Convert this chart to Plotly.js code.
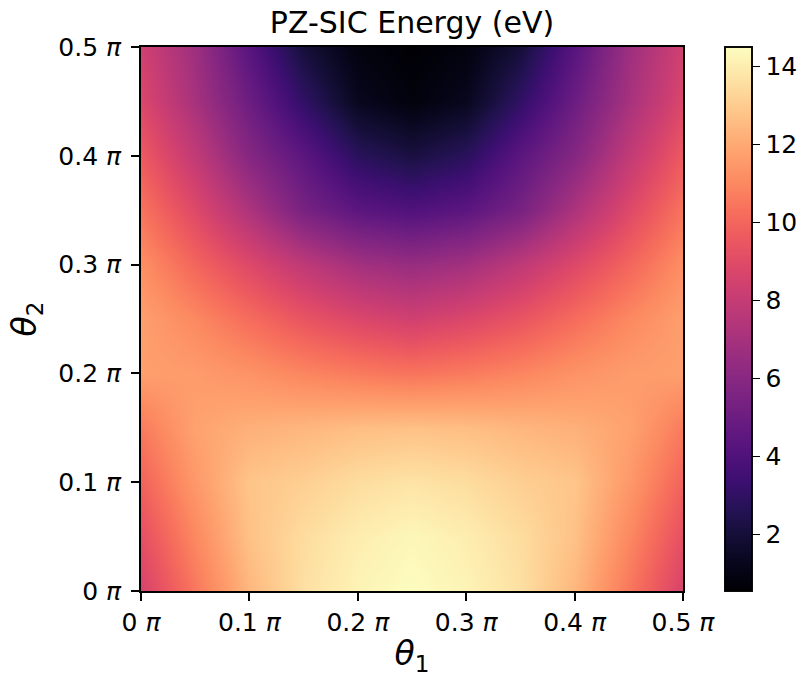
<!DOCTYPE html>
<html>
<head>
<meta charset="utf-8">
<script src="https://cdn.plot.ly/plotly-3.0.1.min.js"></script>
<style>html,body{margin:0;padding:0;background:#fff;}#chart{width:803px;height:677px;}</style>
</head>
<body>
<div id="chart"></div>
<script>
// theta values in units of pi
const theta1 = [0, 0.05, 0.10, 0.15, 0.20, 0.25, 0.30, 0.35, 0.40, 0.45, 0.50];
const theta2 = [0, 0.05, 0.10, 0.15, 0.20, 0.25, 0.30, 0.35, 0.40, 0.45, 0.50];
const tickVals = [0, 0.1, 0.2, 0.3, 0.4, 0.5];
const tickText = ["0 <i>π</i>", "0.1 <i>π</i>", "0.2 <i>π</i>", "0.3 <i>π</i>", "0.4 <i>π</i>", "0.5 <i>π</i>"];
const cbTicks = [2, 4, 6, 8, 10, 12, 14];

// PZ-SIC energy (eV), one row per theta2 value, columns follow theta1
const e_t2_000 = [8.6, 10.5, 12.4, 13.6, 14.2, 14.5, 14.2, 13.6, 12.4, 10.5, 8.6];
const e_t2_005 = [9.2, 11.0, 12.7, 13.5, 14.0, 14.3, 14.0, 13.5, 12.7, 11.0, 9.2];
const e_t2_010 = [9.9, 11.5, 12.8, 13.1, 13.5, 13.7, 13.5, 13.1, 12.8, 11.5, 9.9];
const e_t2_015 = [10.6, 11.8, 12.2, 12.4, 12.6, 12.7, 12.6, 12.4, 12.2, 11.8, 10.6];
const e_t2_020 = [11.7, 11.6, 11.3, 10.9, 10.6, 10.4, 10.6, 10.9, 11.3, 11.6, 11.7];
const e_t2_025 = [11.7, 11.0, 10.2, 9.4, 8.8, 8.4, 8.8, 9.4, 10.2, 11.0, 11.7];
const e_t2_030 = [11.2, 10.0, 8.9, 7.8, 6.9, 6.5, 6.9, 7.8, 8.9, 10.0, 11.2];
const e_t2_035 = [10.4, 8.9, 7.2, 5.4, 4.4, 4.0, 4.4, 5.4, 7.2, 8.9, 10.4];
const e_t2_040 = [9.6, 7.9, 5.9, 4.4, 2.8, 2.2, 2.8, 4.4, 5.9, 7.9, 9.6];
const e_t2_045 = [8.8, 7.0, 5.0, 3.0, 1.3, 0.8, 1.3, 3.0, 5.0, 7.0, 8.8];
const e_t2_050 = [8.4, 6.7, 4.3, 2.0, 0.85, 0.55, 0.85, 2.0, 4.3, 6.7, 8.4];

const energy = [e_t2_000, e_t2_005, e_t2_010, e_t2_015, e_t2_020, e_t2_025,
                e_t2_030, e_t2_035, e_t2_040, e_t2_045, e_t2_050];

const magma = [
  [0.00, '#000004'], [0.05, '#07061c'], [0.10, '#140e36'], [0.15, '#251255'],
  [0.20, '#3b0f70'], [0.25, '#51127c'], [0.30, '#641a80'], [0.35, '#782281'],
  [0.40, '#8c2981'], [0.45, '#a1307e'], [0.50, '#b73779'], [0.55, '#cb3e72'],
  [0.60, '#de4968'], [0.65, '#ed5a5f'], [0.70, '#f7705c'], [0.75, '#fc8961'],
  [0.80, '#fe9f6d'], [0.85, '#feb77e'], [0.90, '#fecf92'], [0.95, '#fde7a9'],
  [1.00, '#fcfdbf']
];

const fam = 'DejaVu Sans, sans-serif';

const trace = {
  type: 'heatmap',
  x: theta1,
  y: theta2,
  z: energy,
  colorscale: magma,
  zsmooth: 'best',
  zmin: 0.55,
  zmax: 14.5,
  colorbar: {
    x: 1.0775, xanchor: 'left', xpad: 0,
    y: 0.5, yanchor: 'middle', ypad: 0,
    len: 1, lenmode: 'fraction',
    thickness: 27, thicknessmode: 'pixels',
    outlinewidth: 1.9, outlinecolor: '#000',
    tickvals: cbTicks,
    ticks: 'outside', ticklen: 8, tickwidth: 1.9, tickcolor: '#000',
    tickfont: {family: fam, size: 25, color: '#000'}
  },
  hoverinfo: 'x+y+z'
};

const axisCommon = {
  range: [0, 0.5],
  tickvals: tickVals,
  ticktext: tickText,
  ticks: 'outside', ticklen: 8, tickwidth: 1.9, tickcolor: '#000',
  tickfont: {family: fam, size: 25, color: '#000'},
  showline: true, linecolor: '#000', linewidth: 1.9, mirror: true,
  showgrid: false, zeroline: false,
  fixedrange: true
};

const layout = {
  width: 803, height: 677,
  margin: {l: 141, r: 120, t: 47, b: 86, autoexpand: false},
  paper_bgcolor: '#fff',
  plot_bgcolor: '#fff',
  title: {text: 'PZ-SIC Energy (eV)', font: {family: fam, size: 30, color: '#000'},
          x: 0.5, xref: 'paper', xanchor: 'center', y: 1 - 22 / 677, yanchor: 'middle'},
  xaxis: Object.assign({}, axisCommon, {
    automargin: false,
    title: {text: '<i>θ</i><sub>1</sub>', font: {family: fam, size: 33, color: '#000'}, standoff: 9}
  }),
  yaxis: Object.assign({}, axisCommon, {
    automargin: false,
    ticklabelstandoff: 5,
    title: {text: '<i>θ</i><sub>2</sub>', font: {family: fam, size: 33, color: '#000'}, standoff: 12}
  }),
  showlegend: false
};

Plotly.newPlot('chart', [trace], layout, {displayModeBar: false, staticPlot: true});
</script>
</body>
</html>
